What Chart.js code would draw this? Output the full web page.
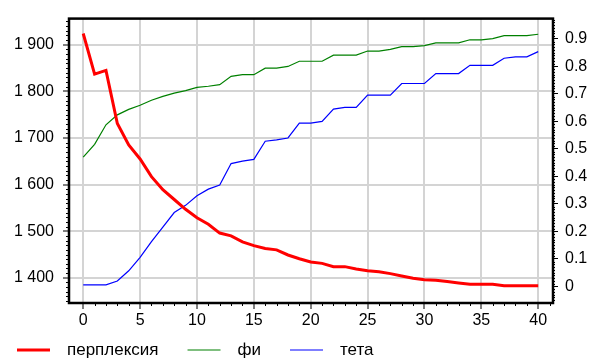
<!DOCTYPE html>
<html>
<head>
<meta charset="utf-8">
<script src="https://cdn.jsdelivr.net/npm/chart.js@4.4.0/dist/chart.umd.min.js"></script>
<style>
  html, body { margin: 0; padding: 0; background: #fff; }
  #wrap { width: 589px; height: 361px; }
</style>
</head>
<body>
<div id="wrap"><canvas id="chart" width="589" height="361"></canvas></div>
<script>
// data
const iterations = [0,1,2,3,4,5,6,7,8,9,10,11,12,13,14,15,16,17,18,19,20,
                    21,22,23,24,25,26,27,28,29,30,31,32,33,34,35,36,37,38,39,40]
const perplexity = [1924,1837,1845,1731,1685,1655,1617,1589,1568,1547,1529,1515,1496,1490,1477,1469,
                    1463,1460,1449,1441,1434,1431,1424,1424,1419,1415,1413,1409,1404,1399,1396,1395,
                    1392,1389,1386,1386,1386,1383,1383,1383,1383]
const phi = [0.470,0.517,0.588,0.624,0.644,0.659,0.677,0.691,0.703,0.712,0.724,0.728,0.734,0.764,
             0.770,0.770,0.794,0.794,0.800,0.819,0.819,0.819,0.841,0.841,0.841,0.856,0.856,0.862,
             0.872,0.872,0.876,0.886,0.886,0.886,0.897,0.897,0.901,0.912,0.912,0.912,0.917]
const theta = [0.006,0.006,0.006,0.020,0.057,0.106,0.163,0.216,0.269,0.295,0.330,0.354,0.369,0.447,
               0.456,0.462,0.528,0.533,0.540,0.594,0.594,0.600,0.645,0.651,0.651,0.696,0.696,0.696,
               0.738,0.738,0.738,0.774,0.774,0.774,0.804,0.804,0.804,0.830,0.835,0.835,0.854]
const seriesNames = ['перплексия', 'фи', 'тета']

const xTicks = [0,5,10,15,20,25,30,35,40]
const leftTicks = [1400,1500,1600,1700,1800,1900]
const rightTicks = [0,0.1,0.2,0.3,0.4,0.5,0.6,0.7,0.8,0.9]

const fontFamily = "'Liberation Sans', Arial, sans-serif"
const gridColor = '#d4d4d4'

function toPoints(ys){
    return iterations.map((x, i) => ({x: x, y: ys[i]}))
}

function fmtLeft(v){
    const s = String(Math.round(v))
    return s.length > 3 ? s.slice(0, s.length - 3) + ' ' + s.slice(-3) : s
}

// frame, minor ticks and legend
const extras = {
    id: 'extras',
    afterDraw(chart){
        const ctx = chart.ctx
        const a = chart.chartArea
        const sx = chart.scales.x, sl = chart.scales.yl, sr = chart.scales.yr

        ctx.save()
        ctx.strokeStyle = '#000'
        ctx.lineWidth = 1

        // minor ticks
        ctx.beginPath()
        for (let v = 0; v <= 41; v++) {
            if (v % 5 === 0) continue
            const px = Math.round(sx.getPixelForValue(v)) + 0.5
            ctx.moveTo(px, a.bottom); ctx.lineTo(px, a.bottom + 3)
        }
        for (let v = 1350; v <= 1950; v += 10) {
            if (v % 100 === 0) continue
            const py = Math.round(sl.getPixelForValue(v)) + 0.5
            ctx.moveTo(a.left - 3, py); ctx.lineTo(a.left, py)
        }
        for (let k = -5; k <= 97; k++) {
            if (k % 10 === 0) continue
            const py = Math.round(sr.getPixelForValue(k / 100)) + 0.5
            ctx.moveTo(a.right, py); ctx.lineTo(a.right + 2, py)
        }
        ctx.stroke()

        // frame
        ctx.lineWidth = 2.5
        ctx.strokeRect(a.left, a.top, a.right - a.left, a.bottom - a.top)

        // legend
        ctx.font = '17px ' + fontFamily
        ctx.textBaseline = 'middle'
        ctx.fillStyle = '#000'
        let x = 17
        const y = 350
        chart.data.datasets.forEach(ds => {
            ctx.strokeStyle = ds.borderColor
            ctx.lineWidth = ds.borderWidth
            ctx.beginPath()
            ctx.moveTo(x, y); ctx.lineTo(x + 33, y)
            ctx.stroke()
            ctx.fillText(ds.label, x + 50, y)
            x += 50 + ctx.measureText(ds.label).width + 29
        })
        ctx.restore()
    }
}

const ctx = document.getElementById('chart').getContext('2d')

const chart = new Chart(ctx, {
    type: 'line',
    data: {
        datasets: [
            {
                label: seriesNames[0],
                data: toPoints(perplexity),
                yAxisID: 'yl',
                borderColor: '#ff0000',
                borderWidth: 3,
                pointRadius: 0,
                tension: 0
            },
            {
                label: seriesNames[1],
                data: toPoints(phi),
                yAxisID: 'yr',
                borderColor: '#008000',
                borderWidth: 1.2,
                pointRadius: 0,
                tension: 0
            },
            {
                label: seriesNames[2],
                data: toPoints(theta),
                yAxisID: 'yr',
                borderColor: '#0000ff',
                borderWidth: 1.2,
                pointRadius: 0,
                tension: 0
            }
        ]
    },
    options: {
        responsive: false,
        animation: false,
        devicePixelRatio: 1,
        layout: { padding: { top: 11, left: 0, right: 0, bottom: 0 } },
        plugins: {
            legend: { display: false },
            tooltip: { enabled: false }
        },
        scales: {
            x: {
                type: 'linear',
                min: -1.25,
                max: 41.3,
                afterBuildTicks: s => { s.ticks = xTicks.map(v => ({value: v})) },
                afterFit: s => { s.height = 58 },
                border: { display: false },
                grid: { color: gridColor, lineWidth: 2, tickColor: '#000', tickLength: 6, tickWidth: 1 },
                ticks: { color: '#000', padding: 2, font: { size: 16, family: fontFamily } }
            },
            yl: {
                type: 'linear',
                position: 'left',
                min: 1346,
                max: 1956,
                afterBuildTicks: s => { s.ticks = leftTicks.map(v => ({value: v})) },
                afterFit: s => { s.width = 69 },
                border: { display: false },
                grid: { color: gridColor, lineWidth: 2, tickColor: '#000', tickLength: 6, tickWidth: 1 },
                ticks: { color: '#000', padding: 9, font: { size: 16, family: fontFamily }, callback: v => fmtLeft(v) }
            },
            yr: {
                type: 'linear',
                position: 'right',
                min: -0.06,
                max: 0.974,
                afterBuildTicks: s => { s.ticks = rightTicks.map(v => ({value: v})) },
                afterFit: s => { s.width = 36 },
                border: { display: false },
                grid: { drawOnChartArea: false, color: '#000', tickLength: 5, tickWidth: 1 },
                ticks: { color: '#000', padding: 7, font: { size: 16, family: fontFamily },
                         callback: v => String(Math.round(v * 10) / 10) }
            }
        }
    },
    plugins: [extras]
})
</script>
</body>
</html>
